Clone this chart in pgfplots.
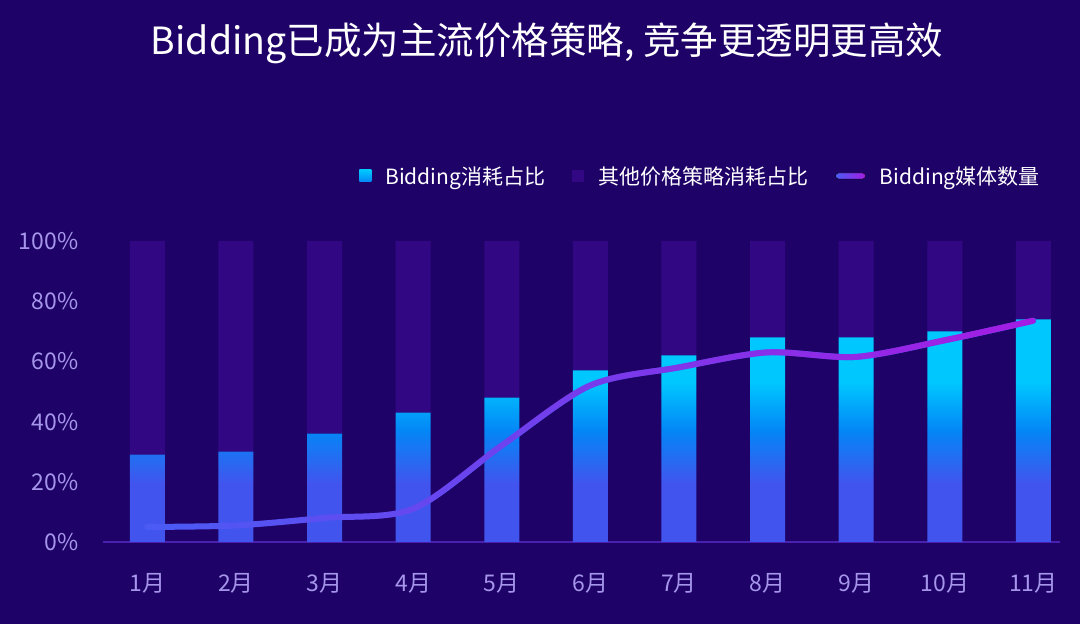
\documentclass[border=0pt]{standalone}
\usepackage{fontspec}
\setmainfont{Noto Sans CJK SC}
\usepackage{pgfplots}
\pgfplotsset{compat=1.18}
\usetikzlibrary{fadings}

\definecolor{bgc}{RGB}{30,2,103}
\definecolor{restbar}{RGB}{50,7,132}
\definecolor{bv}{RGB}{66,84,238}
\definecolor{bb}{RGB}{4,134,246}
\definecolor{bc}{RGB}{0,200,255}
\definecolor{lineA}{RGB}{74,92,245}
\definecolor{lineB}{RGB}{165,28,228}
\definecolor{labc}{RGB}{165,150,235}
\definecolor{axc}{RGB}{74,32,176}

% vertical gradient of the Bidding bars (fitted to each bar: 25bp = bottom, 75bp = top)
\pgfdeclareverticalshading{bidshade}{100bp}{color(0bp)=(bv); color(38bp)=(bv); color(50bp)=(bb); color(61bp)=(bc); color(100bp)=(bc)}
\tikzfading[name=fadein, left color=transparent!100, right color=transparent!0]

\begin{document}
\begin{tikzpicture}[x=1pt,y=1pt]
\fill[bgc] (0,0) rectangle (1080,624);
\useasboundingbox (0,0) rectangle (1080,624);
\node[text=white, font=\fontsize{37.5}{42}\selectfont] at (547,581) {Bidding已成为主流价格策略, 竞争更透明更高效};

\begin{axis}[
  at={(103pt,82pt)}, anchor=south west, scale only axis,
  width=957pt, height=301pt,
  xmin=-0.5, xmax=10.3, ymin=0, ymax=100,
  ybar stacked, bar width=35pt,
  axis x line*=bottom, axis y line*=left,
  y axis line style={draw=none},
  x axis line style={draw=axc, line width=1.5pt},
  major tick length=0pt,
  xtick={0,...,10},
  xticklabels={1月,2月,3月,4月,5月,6月,7月,8月,9月,10月,11月},
  ytick={0,20,40,60,80,100},
  yticklabels={0\%,20\%,40\%,60\%,80\%,100\%},
  /pgf/number format/assume math mode=true,
  tick label style={text=labc},
  yticklabel style={font=\fontsize{23}{23}\selectfont, xshift=-21pt},
  xticklabel style={font=\fontsize{23}{23}\selectfont, yshift=-28pt},
  legend columns=3,
  legend style={at={(0.2645,1.216)}, anchor=west, draw=none, fill=none,
    text=white, font=\fontsize{21}{21}\selectfont,
    /tikz/every odd column/.append style={column sep=12pt},
    /tikz/every even column/.append style={column sep=25pt}},
]
\addplot[draw=none, shade, shading=bidshade,
  legend image code/.code={\shade[top color=bc, bottom color=bb] (0pt,-6pt) rectangle (12pt,6pt);}]
  coordinates {(0,29) (1,30) (2,36) (3,43) (4,48) (5,57) (6,62) (7,68) (8,68) (9,70) (10,74)};
\addlegendentry{Bidding消耗占比}
\addplot[draw=none, fill=restbar,
  legend image code/.code={\fill[restbar] (0pt,-6pt) rectangle (12pt,6pt);}]
  coordinates {(0,71) (1,70) (2,64) (3,57) (4,52) (5,43) (6,38) (7,32) (8,32) (9,30) (10,26)};
\addlegendentry{其他价格策略消耗占比}
\addlegendimage{legend image code/.code={\shade[left color=lineA, right color=lineB, rounded corners=3pt] (0pt,-3pt) rectangle (30pt,3pt);}}
\addlegendentry{Bidding媒体数量}
\end{axis}

\begin{axis}[
  at={(103pt,82pt)}, anchor=south west, scale only axis,
  width=957pt, height=301pt,
  xmin=-0.5, xmax=10.3, ymin=0, ymax=100,
  hide axis,
]
\addplot[smooth, line width=6pt, line cap=round, color=lineA]
  coordinates {(0,5) (1,5.5) (2,8) (3,11) (4,32) (5,52) (6,58) (7,63) (8,61.5) (9,67) (10,73.5)};
\addplot[smooth, line width=6pt, line cap=round, color=lineB, path fading=fadein]
  coordinates {(0,5) (1,5.5) (2,8) (3,11) (4,32) (5,52) (6,58) (7,63) (8,61.5) (9,67) (10,73.5)};
\end{axis}
\end{tikzpicture}
\end{document}
